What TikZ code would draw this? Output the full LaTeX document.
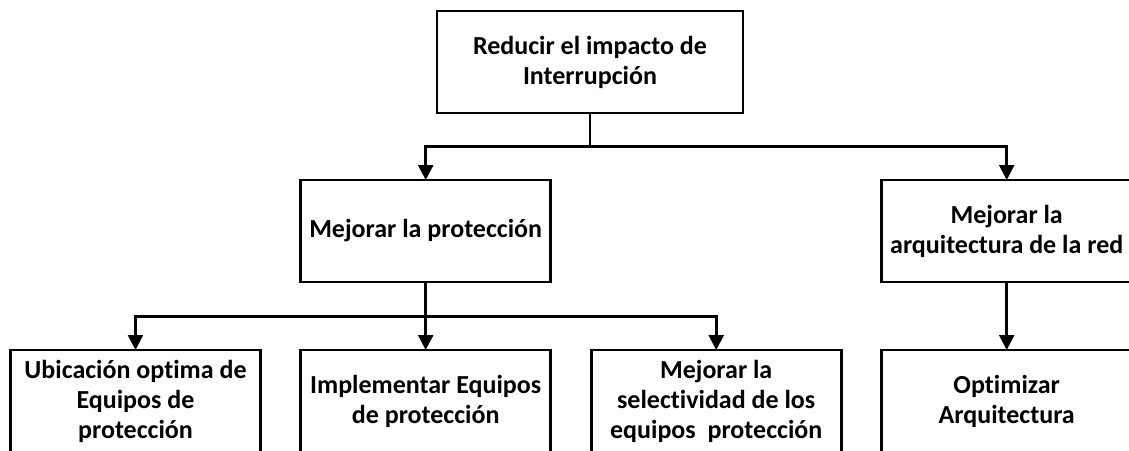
\documentclass[tikz,border=0pt]{standalone}
\usepackage{fontspec}
\setmainfont{Carlito}[Ligatures=NoCommon]
\usetikzlibrary{arrows.meta}
\begin{document}
\begin{tikzpicture}[x=1pt,y=-1pt,
  box/.style={draw=black, line width=2.6pt, fill=white, align=center, inner sep=0pt, outer sep=0pt,
    minimum height=102pt, font=\fontsize{26}{30}\selectfont\bfseries},
  wbox/.style={box, minimum width=250pt},
  conn/.style={draw=black, line width=2.6pt},
  arr/.style={conn, -{Triangle[length=15pt,width=15pt]}}]
\useasboundingbox (0,0) rectangle (1129,450);
\clip (0,0) rectangle (1129,450);
\fill[white] (0,0) rectangle (1129,450);
\node[box, minimum width=306pt] (top) at (590,62) {Reducir el impacto de\\Interrupción};
\node[wbox] (prot) at (425.7,231) {Mejorar la protección};
\node[wbox] (arq) at (1006.7,231) {Mejorar la\\arquitectura de la red};
\node[wbox] (ubi) at (135.5,401) {Ubicación optima de\\Equipos de\\protección};
\node[wbox] (impl) at (425.7,401) {Implementar Equipos\\de protección};
\node[wbox] (sel) at (716.2,401) {Mejorar la\\selectividad de los\\equipos\ \ protección};
\node[wbox] (opt) at (1006.7,401) {Optimizar\\Arquitectura};
\coordinate (j1) at (590,146.7);
\coordinate (j2) at (425.7,316.7);
\draw[conn] (top.south) -- (j1);
\draw[arr] (j1) -| (prot.north);
\draw[arr] (j1) -| (arq.north);
\draw[arr] (prot.south) -- (impl.north);
\draw[arr] (j2) -| (ubi.north);
\draw[arr] (j2) -| (sel.north);
\draw[arr] (arq.south) -- (opt.north);
\end{tikzpicture}
\end{document}
